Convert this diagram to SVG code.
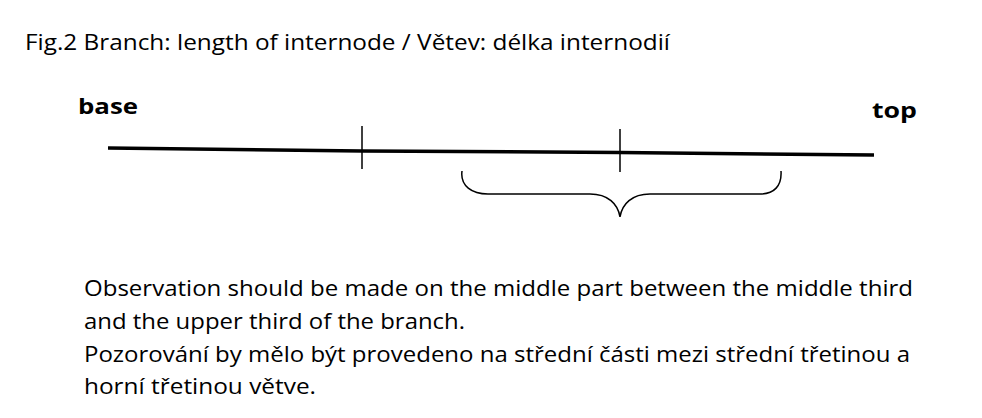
<svg xmlns="http://www.w3.org/2000/svg" width="982" height="418" viewBox="0 0 982 418">
<style>
.t{font-family:"Open Sans","Noto Sans","Liberation Sans",sans-serif;fill:#000}
.body{font-size:22.5px}
.lbl{font-size:22px;font-weight:bold}
.ln{stroke:#000;fill:none;stroke-linecap:butt}
</style>
<rect width="982" height="418" fill="#fff"/>
<g id="title"><text class="t" x="25" y="50" font-size="21.5" textLength="645" lengthAdjust="spacingAndGlyphs">Fig.2 Branch: length of internode / Větev: délka internodií</text></g>
<g id="base"><text class="t lbl" x="78" y="114" textLength="60" lengthAdjust="spacingAndGlyphs">base</text></g>
<g id="top"><text class="t lbl" x="872" y="118" textLength="45" lengthAdjust="spacingAndGlyphs">top</text></g>
<g id="connectors">
<path class="ln" d="M108 148 L362 151 L620 152.5 L874 155" stroke-width="3.5"/>
<path class="ln" d="M362 126 V169" stroke-width="1.5"/>
<path class="ln" d="M620 129 V172" stroke-width="1.5"/>
<path class="ln" d="M462 171 C460 186 472 194 488 194 L590 194 C608 194 618 204 620 217 C622 204 632 194 650 194 L760 194 C774 194 782 186 781 171" stroke-width="1.5"/>
</g>
<g id="note">
<text class="t body" x="84" y="296" textLength="829" lengthAdjust="spacingAndGlyphs">Observation should be made on the middle part between the middle third</text>
<text class="t body" x="84" y="329" textLength="381" lengthAdjust="spacingAndGlyphs">and the upper third of the branch.</text>
<text class="t body" x="84" y="362" textLength="826" lengthAdjust="spacingAndGlyphs">Pozorování by mělo být provedeno na střední části mezi střední třetinou a</text>
<text class="t body" x="84" y="394" textLength="232" lengthAdjust="spacingAndGlyphs">horní třetinou větve.</text>
</g>
</svg>
